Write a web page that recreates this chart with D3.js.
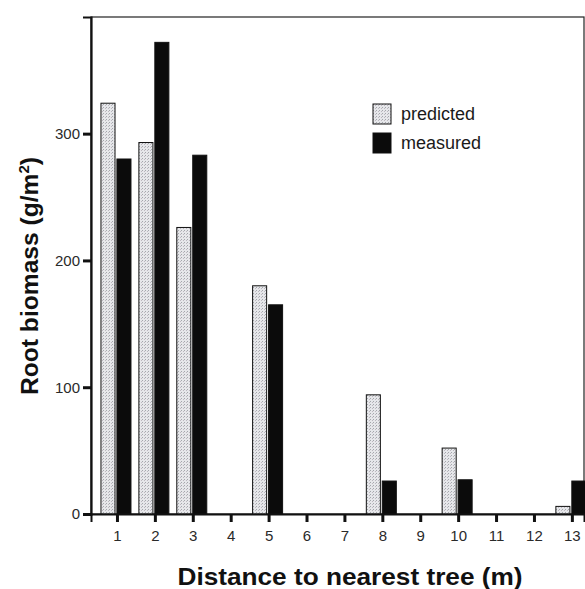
<!DOCTYPE html>
<html>
<head>
<meta charset="utf-8">
<script src="https://cdn.jsdelivr.net/npm/d3@7"></script>
<style>
  body { margin: 0; background: #fff; }
  text { font-family: "Liberation Sans", Arial, sans-serif; }
</style>
</head>
<body>
<script>
// chart values
var distances = [1, 2, 3, 4, 5, 6, 7, 8, 9, 10, 11, 12, 13];
var predicted = [324, 293, 226, null, 180, null, null, 94, null, 52, null, null, 6];
var measured = [280, 372, 283, null, 165, null, null, 26, null, 27, null, null, 26];
var seriesNames = ["predicted", "measured"];
var yTicks = [0, 100, 200, 300];

var svgWidth = 585;
var svgHeight = 589;

var margin = { top: 17, right: 1, bottom: 75, left: 91 };
var chartWidth = svgWidth - margin.left - margin.right;
var chartHeight = svgHeight - margin.top - margin.bottom;

var svg = d3.select("body")
  .append("svg")
  .attr("width", svgWidth)
  .attr("height", svgHeight);

// stipple fill for the predicted bars
var defs = svg.append("defs");
var pat = defs.append("pattern")
  .attr("id", "stipple")
  .attr("width", 3)
  .attr("height", 3)
  .attr("patternUnits", "userSpaceOnUse");
pat.append("rect").attr("width", 3).attr("height", 3).attr("fill", "#e6e7ea");
pat.append("rect").attr("x", 0).attr("y", 0).attr("width", 1).attr("height", 1).attr("fill", "#a4a7ac");
pat.append("rect").attr("x", 2).attr("y", 1).attr("width", 1).attr("height", 1).attr("fill", "#bdb8c0");

var chartGroup = svg.append("g")
  .attr("transform", `translate(${margin.left}, ${margin.top})`);

var xScale = d3.scaleLinear()
  .domain([0.315, 13.32])
  .range([0, chartWidth]);

var yScale = d3.scaleLinear()
  .domain([0, 392])
  .range([chartHeight, 0]);

// offsets of the two bars around each tick
var seriesScale = d3.scaleBand()
  .domain(seriesNames)
  .range([-16, 14])
  .paddingInner(0.12);

var rows = distances.map(function(d, i) {
  return { dist: d, predicted: predicted[i], measured: measured[i] };
});

// frame
chartGroup.append("rect")
  .attr("x", 0)
  .attr("y", 0)
  .attr("width", chartWidth)
  .attr("height", chartHeight)
  .attr("fill", "none")
  .attr("stroke", "#222")
  .attr("stroke-width", 1.2);

// bars
seriesNames.forEach(function(name) {
  chartGroup.selectAll("rect.bar-" + name)
    .data(rows.filter(d => d[name] !== null))
    .enter()
    .append("rect")
    .attr("class", "bar-" + name)
    .attr("x", d => xScale(d.dist) + seriesScale(name))
    .attr("y", d => yScale(d[name]))
    .attr("width", seriesScale.bandwidth())
    .attr("height", d => chartHeight - yScale(d[name]))
    .attr("fill", name === "predicted" ? "url(#stipple)" : "#0b0b0b")
    .attr("stroke", "#111")
    .attr("stroke-width", 1);
});

// y axis
var leftAxis = d3.axisLeft(yScale)
  .tickValues(yTicks)
  .tickSize(8)
  .tickPadding(3);
var yAxisG = chartGroup.append("g").call(leftAxis);
yAxisG.select(".domain").attr("stroke", "#111").attr("stroke-width", 2.2);
yAxisG.selectAll(".tick line").attr("stroke", "#111").attr("stroke-width", 3);
yAxisG.selectAll(".tick text")
  .attr("font-size", 15)
  .attr("fill", "#2a2a2a");

// x axis
var bottomAxis = d3.axisBottom(xScale)
  .tickValues(distances)
  .tickFormat(d3.format("d"))
  .tickSize(8)
  .tickPadding(8);
var xAxisG = chartGroup.append("g")
  .attr("transform", `translate(0, ${chartHeight})`)
  .call(bottomAxis);
xAxisG.select(".domain").attr("stroke", "#111").attr("stroke-width", 2);
xAxisG.selectAll(".tick line").attr("stroke", "#111").attr("stroke-width", 3);
xAxisG.selectAll(".tick text")
  .attr("font-size", 15)
  .attr("fill", "#2a2a2a");

// axis titles
var yTitle = svg.append("text")
  .attr("transform", "translate(38, 276) rotate(-90)")
  .attr("text-anchor", "middle")
  .attr("font-size", 23)
  .attr("font-weight", "bold")
  .attr("fill", "#111")
  .attr("textLength", 238)
  .attr("lengthAdjust", "spacingAndGlyphs");
yTitle.append("tspan").text("Root biomass (g/m");
yTitle.append("tspan").attr("font-size", 14).attr("dy", -9).text("2");
yTitle.append("tspan").attr("dy", 9).text(")");

svg.append("text")
  .attr("x", 350)
  .attr("y", 585)
  .attr("text-anchor", "middle")
  .attr("font-size", 24)
  .attr("font-weight", "bold")
  .attr("fill", "#111")
  .attr("textLength", 345)
  .attr("lengthAdjust", "spacingAndGlyphs")
  .text("Distance to nearest tree (m)");

// legend
var legend = svg.append("g")
  .attr("transform", "translate(373, 104)");
seriesNames.forEach(function(name, i) {
  var row = legend.append("g").attr("transform", `translate(0, ${i * 29})`);
  row.append("rect")
    .attr("width", 18)
    .attr("height", 20)
    .attr("fill", name === "predicted" ? "url(#stipple)" : "#0b0b0b")
    .attr("stroke", "#111")
    .attr("stroke-width", 1);
  row.append("text")
    .attr("x", 28)
    .attr("y", 16)
    .attr("font-size", 18)
    .attr("fill", "#1a1a1a")
    .text(name);
});
</script>
</body>
</html>
